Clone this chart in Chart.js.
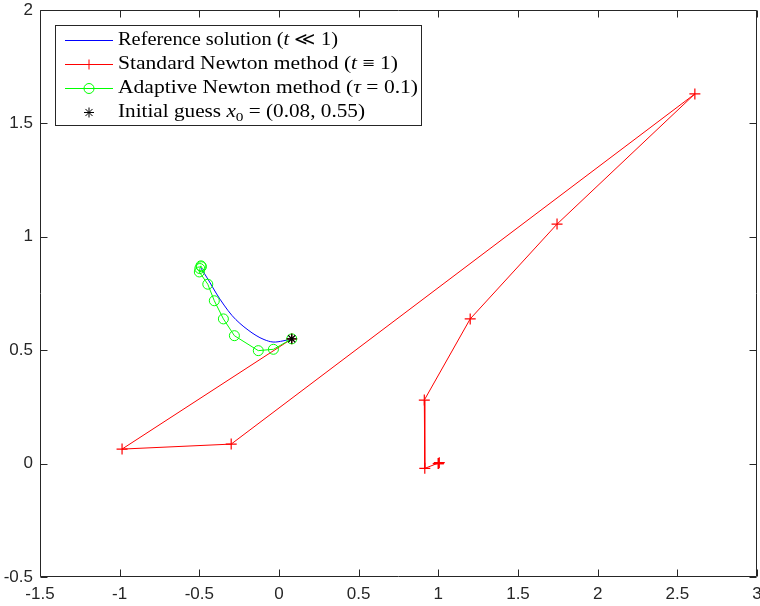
<!DOCTYPE html>
<html>
<head>
<meta charset="utf-8">
<script src="https://cdn.jsdelivr.net/npm/chart.js@4/dist/chart.umd.min.js"></script>
<style>
  html, body { margin: 0; padding: 0; background: #fff; overflow: hidden; }
  #wrap { width: 760px; height: 606px; }
</style>
</head>
<body>
<div id="wrap"><canvas id="c" width="760" height="606"></canvas></div>
<script>
// Axis ticks
const xTicks = [-1.5, -1, -0.5, 0, 0.5, 1, 1.5, 2, 2.5, 3];
const yTicks = [-0.5, 0, 0.5, 1, 1.5, 2];

// Reference solution path (small damping)
const refX = [0.08, 0.025, -0.037, -0.094, -0.144, -0.194, -0.245, -0.295, -0.345, -0.395, -0.439, -0.470, -0.489];
const refY = [0.55, 0.541, 0.536, 0.547, 0.565, 0.589, 0.618, 0.653, 0.699, 0.752, 0.805, 0.840, 0.862];

// Standard Newton iterates (full steps)
const newtonX = [0.08, -0.985, -0.30, 2.61, 1.745, 1.20, 0.912, 0.915, 1.006, 1.0, 1.0];
const newtonY = [0.55, 0.064, 0.086, 1.63, 1.056, 0.638, 0.280, -0.021, 0.004, 0.0, 0.0];

// Adaptive Newton iterates (tau = 0.1)
const adaptX = [0.08, -0.035, -0.13, -0.28, -0.349, -0.406, -0.447, -0.500, -0.497, -0.490, -0.487];
const adaptY = [0.55, 0.504, 0.498, 0.564, 0.638, 0.718, 0.791, 0.845, 0.860, 0.872, 0.868];

// Initial guess
const guessX = [0.08];
const guessY = [0.55];

const pts = (xs, ys) => xs.map((x, i) => ({ x: x, y: ys[i] }));

const AXIS_COLOR = '#262626';
const TICK_LEN = 7;

// Box frame with inward ticks on all four sides
const framePlugin = {
  id: 'frame',
  beforeDatasetsDraw(chart) {
    const { ctx, chartArea: a, scales } = chart;
    ctx.save();
    ctx.strokeStyle = AXIS_COLOR;
    ctx.lineWidth = 1;
    ctx.beginPath();
    const L = Math.round(a.left) + 0.5, R = Math.round(a.right) - 0.5;
    const T = Math.round(a.top) + 0.5, B = Math.round(a.bottom) - 0.5;
    ctx.rect(L, T, R - L, B - T);
    xTicks.forEach(v => {
      const px = Math.round(scales.x.getPixelForValue(v)) + 0.5;
      ctx.moveTo(px, B); ctx.lineTo(px, B - TICK_LEN);
      ctx.moveTo(px, T); ctx.lineTo(px, T + TICK_LEN);
    });
    yTicks.forEach(v => {
      const py = Math.round(scales.y.getPixelForValue(v)) + 0.5;
      ctx.moveTo(L, py); ctx.lineTo(L + TICK_LEN, py);
      ctx.moveTo(R, py); ctx.lineTo(R - TICK_LEN, py);
    });
    ctx.stroke();
    ctx.restore();
  }
};

// Legend box with mixed upright / italic text
const SERIF = '"Liberation Serif", "Times New Roman", serif';
const N = '18px ' + SERIF;
const I = 'italic 18px ' + SERIF;
const S = '13px ' + SERIF;
const legendRows = [
  { color: '#0000ff', line: true, marker: null, width: 220,
    runs: [['Reference solution (', N], ['t', I], [' \u226A 1)', N]] },
  { color: '#ff0000', line: true, marker: 'cross', width: 280,
    runs: [['Standard Newton method (', N], ['t', I], [' \u2261 1)', N]] },
  { color: '#00ff00', line: true, marker: 'circle', width: 300,
    runs: [['Adaptive Newton method (', N], ['\u03C4', I], [' = 0.1)', N]] },
  { color: '#000000', line: false, marker: 'star', width: 247,
    runs: [['Initial guess ', N], ['x', I], ['0', S, 4], [' = (0.08, 0.55)', N]] }
];

const legendPlugin = {
  id: 'mathLegend',
  afterDraw(chart) {
    const ctx = chart.ctx;
    const box = { x: 55.5, y: 25.5, w: 366, h: 100 };
    ctx.save();
    ctx.fillStyle = '#fff';
    ctx.fillRect(box.x, box.y, box.w, box.h);
    ctx.strokeStyle = AXIS_COLOR;
    ctx.lineWidth = 1;
    ctx.strokeRect(box.x, box.y, box.w, box.h);
    legendRows.forEach((row, i) => {
      const base = 44.5 + i * 24;
      const cy = Math.round(base - 5);
      ctx.strokeStyle = row.color;
      ctx.fillStyle = 'rgba(0,0,0,0)';
      ctx.lineWidth = 1;
      if (row.line) {
        ctx.beginPath();
        ctx.moveTo(65, cy + 0.5); ctx.lineTo(113, cy + 0.5);
        ctx.stroke();
      }
      if (row.marker) {
        Chart.helpers.drawPoint(ctx, {
          pointStyle: row.marker, radius: 5, rotation: 0,
          borderWidth: row.marker === 'star' ? 1.3 : 1
        }, 89, cy + 0.5);
      }
      // measure the natural width of the label, then stretch it to the
      // wider math-typeset proportions of the box
      let natural = 0;
      row.runs.forEach(r => { ctx.font = r[1]; natural += ctx.measureText(r[0]).width; });
      const sx = row.width / natural;
      ctx.save();
      ctx.translate(118, 0);
      ctx.scale(sx, 1);
      ctx.fillStyle = '#000';
      ctx.textBaseline = 'alphabetic';
      ctx.textAlign = 'left';
      let x = 0;
      row.runs.forEach(r => {
        ctx.font = r[1];
        ctx.fillText(r[0], x, base + (r[2] || 0));
        x += ctx.measureText(r[0]).width;
      });
      ctx.restore();
    });
    ctx.restore();
  }
};

const tickFont = { family: '"Liberation Sans", Arial, sans-serif', size: 17 };
const fmt = v => String(v);

new Chart(document.getElementById('c'), {
  type: 'scatter',
  data: {
    datasets: [
      {
        label: 'Initial guess',
        data: pts(guessX, guessY),
        showLine: false,
        pointStyle: 'star',
        pointRadius: 5,
        pointBorderWidth: 1.3,
        borderColor: '#000000',
        backgroundColor: '#000000',
        order: 0
      },
      {
        label: 'Adaptive Newton method',
        data: pts(adaptX, adaptY),
        showLine: true,
        borderColor: '#00ff00',
        borderWidth: 1,
        pointStyle: 'circle',
        pointRadius: 5,
        pointBorderWidth: 1,
        pointBorderColor: '#00ff00',
        pointBackgroundColor: 'rgba(0,0,0,0)',
        order: 1
      },
      {
        label: 'Standard Newton method',
        data: pts(newtonX, newtonY),
        showLine: true,
        borderColor: '#ff0000',
        borderWidth: 1,
        pointStyle: 'cross',
        pointRadius: 5.5,
        pointBorderWidth: 1.2,
        pointBorderColor: '#ff0000',
        order: 2
      },
      {
        label: 'Reference solution',
        data: pts(refX, refY),
        showLine: true,
        tension: 0.35,
        borderColor: '#0000ff',
        borderWidth: 1,
        pointRadius: 0,
        order: 3
      }
    ]
  },
  options: {
    responsive: false,
    animation: false,
    devicePixelRatio: 1,
    layout: { autoPadding: false, padding: { top: 10, right: 3, left: 0, bottom: 0 } },
    plugins: {
      legend: { display: false },
      tooltip: { enabled: false }
    },
    scales: {
      x: {
        type: 'linear',
        min: -1.5, max: 3,
        afterBuildTicks(s) { s.ticks = xTicks.map(v => ({ value: v })); },
        ticks: { font: tickFont, color: AXIS_COLOR, padding: 7, maxRotation: 0, autoSkip: false, callback: fmt },
        grid: { display: false, drawTicks: false },
        border: { display: false },
        afterFit(s) { s.height = 29; s.paddingLeft = 0; s.paddingRight = 0; }
      },
      y: {
        type: 'linear',
        min: -0.5, max: 2,
        afterBuildTicks(s) { s.ticks = yTicks.map(v => ({ value: v })); },
        ticks: { font: tickFont, color: AXIS_COLOR, padding: 7, autoSkip: false, callback: fmt },
        grid: { display: false, drawTicks: false },
        border: { display: false },
        afterFit(s) { s.width = 40; s.paddingTop = 0; s.paddingBottom = 0; }
      }
    }
  },
  plugins: [framePlugin, legendPlugin]
});
</script>
</body>
</html>
